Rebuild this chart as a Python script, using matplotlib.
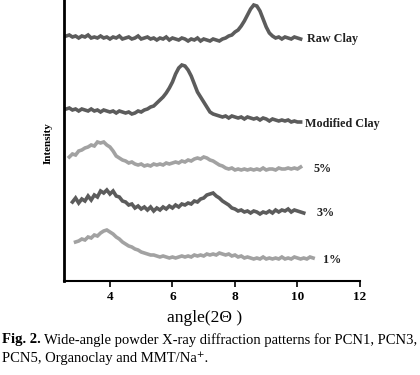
import numpy as np
import matplotlib
matplotlib.use("Agg")
import matplotlib.pyplot as plt

SERIF = ["Liberation Serif", "DejaVu Serif"]

# intensity values (a.u.) sampled every 0.1 deg 2-theta
raw_start = 2.6
raw_clay = [245, 246, 244, 245, 243, 245, 244, 246, 243, 244,
            243, 245, 243, 244, 242, 244, 243, 245, 242, 243,
            244, 242, 243, 245, 242, 243, 244, 242, 243, 241,
            243, 242, 244, 241, 243, 242, 241, 243, 242, 240,
            242, 241, 243, 240, 242, 241, 240, 242, 241, 240,
            242, 243, 245, 246, 249, 251, 255, 260, 266, 272,
            276, 275, 270, 262, 254, 248, 245, 243, 244, 242,
            244, 243, 242, 244, 243, 242]

mod_start = 2.6
modified_clay = [172, 173, 171, 172, 170, 172, 171, 170, 172, 170,
                 171, 169, 171, 170, 169, 170, 168, 170, 169, 168,
                 169, 167, 168, 170, 169, 171, 172, 174, 175, 178,
                 181, 184, 188, 193, 199, 207, 213, 216, 215, 211,
                 205, 197, 189, 184, 179, 174, 169, 167, 166, 165,
                 164, 165, 163, 165, 164, 163, 164, 162, 164, 163,
                 162, 163, 161, 163, 162, 160, 162, 161, 160, 161,
                 160, 161, 159, 160, 159, 159]

p5_start = 2.7
pcn5 = [124, 127, 126, 130, 131, 133, 134, 136, 135, 139,
        138, 139, 136, 134, 130, 125, 123, 121, 120, 118,
        119, 117, 116, 117, 115, 116, 115, 117, 116, 117,
        116, 118, 117, 118, 119, 118, 120, 119, 121, 120,
        122, 123, 122, 124, 123, 121, 120, 118, 116, 115,
        113, 112, 113, 111, 112, 111, 112, 111, 112, 111,
        112, 111, 113, 111, 112, 112, 111, 113, 112, 112,
        113, 112, 113, 112, 114]

p3_start = 2.8
pcn3 = [79, 83, 78, 82, 80, 85, 81, 86, 84, 90,
        88, 91, 87, 90, 85, 84, 80, 79, 76, 77,
        73, 75, 72, 74, 71, 74, 70, 73, 71, 74,
        72, 75, 73, 76, 74, 77, 76, 78, 77, 80,
        79, 82, 83, 86, 87, 88, 85, 83, 80, 78,
        76, 73, 72, 70, 71, 69, 70, 68, 70, 69,
        67, 69, 68, 70, 68, 71, 69, 71, 70, 72,
        69, 71, 70, 69, 68]

p1_start = 2.9
pcn1 = [39, 40, 42, 41, 44, 43, 46, 45, 48, 50,
        51, 49, 47, 44, 42, 39, 37, 35, 34, 32,
        31, 29, 28, 27, 26, 26, 25, 24, 25, 24,
        23, 24, 23, 24, 25, 24, 25, 24, 26, 25,
        26, 25, 27, 26, 27, 26, 28, 27, 26, 27,
        25, 26, 24, 25, 23, 24, 23, 22, 23, 22,
        24, 22, 23, 22, 23, 22, 24, 22, 23, 22,
        24, 23, 22, 23, 22, 24, 23]

series = [
    ("Raw Clay", raw_start, raw_clay, "#5c5c5c"),
    ("Modified Clay", mod_start, modified_clay, "#5c5c5c"),
    ("5%", p5_start, pcn5, "#a2a2a2"),
    ("3%", p3_start, pcn3, "#5c5c5c"),
    ("1%", p1_start, pcn1, "#a2a2a2"),
]
label_pos = {"Raw Clay": (10.3, 242), "Modified Clay": (10.24, 157),
             "5%": (10.5, 112), "3%": (10.6, 68), "1%": (10.82, 21)}

fig = plt.figure(figsize=(4.2, 3.75), dpi=100)
ax = fig.add_axes([64 / 420, 1 - 281 / 375, 296 / 420, 281 / 375])

for name, x0, vals, col in series:
    x = x0 + 0.1 * np.arange(len(vals))
    ax.plot(x, vals, color=col, lw=2.6, solid_joinstyle="miter")
    lx, ly = label_pos[name]
    ax.text(lx, ly, name, fontsize=8.7, fontweight="bold", family=SERIF,
            va="center", ha="left", color="#222222", clip_on=False)

ax.set_xlim(2.53, 12)
ax.set_ylim(0, 281)
ax.set_xticks([4, 6, 8, 10, 12])
ax.set_yticks([])
for side in ("top", "right"):
    ax.spines[side].set_visible(False)
ax.spines["left"].set_linewidth(2)
ax.spines["bottom"].set_linewidth(1.5)
ax.tick_params(axis="x", direction="out", length=4, width=1.2, pad=3)
for lab in ax.get_xticklabels():
    lab.set_fontfamily(SERIF)
    lab.set_fontweight("bold")
    lab.set_fontsize(9.5)

fig.text(48 / 420, 1 - 143 / 375, "Intensity", rotation=90, fontsize=8,
         fontweight="bold", family=SERIF, ha="center", va="center")
fig.text(205 / 420, 1 - 318 / 375, "angle(2\u0398 )", fontsize=12.5,
         family=SERIF, ha="center", va="center")

# caption
fig.canvas.draw()
r = fig.canvas.get_renderer()
t1 = fig.text(2 / 420, 1 - 340 / 375, "Fig. 2.", fontsize=10.5,
              fontweight="bold", family=SERIF, va="center")
bb = t1.get_window_extent(r)
fig.text((bb.x1 + 3) / 420, 1 - 340 / 375,
         "Wide-angle powder X-ray diffraction patterns for PCN1, PCN3,",
         fontsize=10.5, family=SERIF, va="center")
fig.text(2 / 420, 1 - 358 / 375, "PCN5, Organoclay and MMT/Na\u207a.",
         fontsize=10.5, family=SERIF, va="center")

fig.savefig("out.png", dpi=100)
